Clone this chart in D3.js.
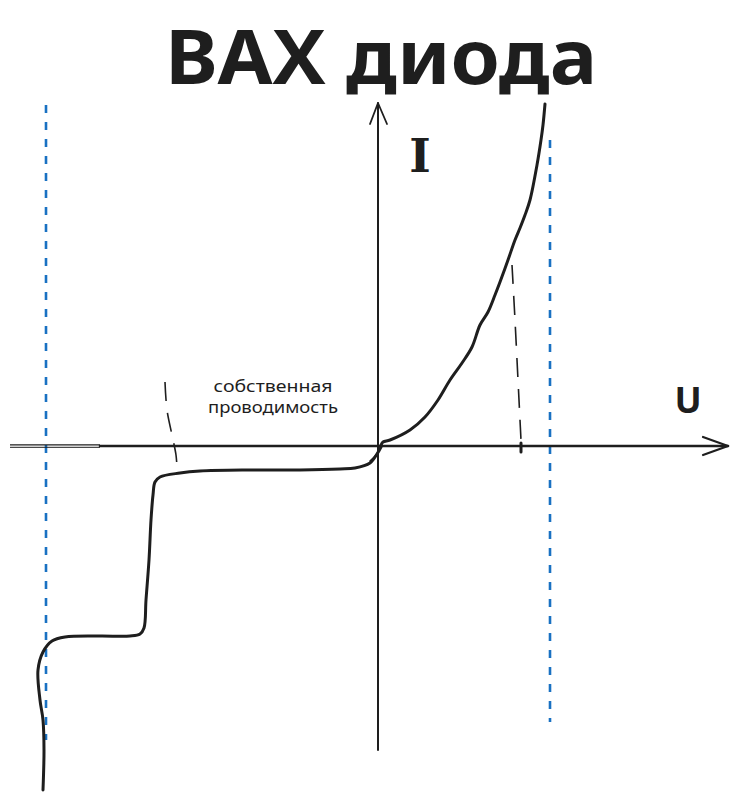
<!DOCTYPE html>
<html>
<head>
<meta charset="utf-8">
<script src="https://cdn.jsdelivr.net/npm/d3@7"></script>
<style>
  html, body { margin: 0; padding: 0; background: #ffffff; }
  svg { display: block; }
</style>
</head>
<body>
<div id="chart"></div>
<script>
// ---------- data (U, I in arbitrary units, origin at 0,0) ----------
const titleText = "ВАХ диода";
const axisLabels = ["I", "U"];
const noteLines = ["собственная", "проводимость"];

// forward branch
const forwardU = [0.2, 0.4, 1.1, 3.1, 4.6, 5.9, 7.1, 8.3, 9.3, 10.1, 10.9, 11.6, 12.1, 12.9, 13.6, 14.1, 14.6, 15.1, 15.8, 16.2, 16.4, 16.6];
const forwardI = [0.1, 0.4, 0.6, 1.6, 2.9, 4.6, 6.6, 8.3, 9.9, 12.1, 13.4, 15.1, 16.4, 18.6, 20.6, 21.8, 23.1, 24.6, 28.1, 30.6, 32.1, 34.2];

// reverse branch (with breakdown steps)
const reverseU = [0.2, -0.2, -0.9, -2.4, -3.9, -7.9, -12.9, -17.9, -19.9, -21.9, -22.4, -22.6, -22.8, -23.0, -23.3, -23.5, -23.9, -24.9, -27.9, -31.4, -32.7, -33.6, -34.1, -33.9, -33.6, -33.5, -33.6];
const reverseI = [-0.1, -0.8, -1.7, -2.2, -2.3, -2.4, -2.4, -2.5, -2.7, -3.1, -3.6, -4.9, -7.4, -11.4, -15.4, -18.2, -18.8, -19.0, -19.0, -19.1, -19.5, -20.6, -22.4, -25.4, -27.4, -30.4, -34.4];

// extra sketch stroke near the origin
const sketchU = [0.3, -0.3, -0.9];
const sketchI = [0.1, -0.9, -1.5];

// blue dashed limits
const limitU = [-33.3, 17.1];
const limitTop = [34.1, 30.6];
const limitBottom = [-29.4, -27.6];

// black dashed guides
const guideRightU = [13.3, 13.6, 13.9, 14.1, 14.2];
const guideRightI = [18.1, 12.6, 6.6, 2.6, 0.6];
const guideLeftU = [-21.4, -21.2, -20.7, -20.3, -20.2];
const guideLeftI = [6.4, 3.6, 1.1, -0.9, -2.2];
const tickU = [14.2];

// axis extents
const uDomain = [-37, 35];
const iDomain = [-35, 35];

// ---------- drawing ----------
const W = 738, H = 800;
const ink = "#1e1e1e", blue = "#1971c2";

const svg = d3.select("#chart").append("svg")
  .attr("width", W).attr("height", H);

const x = d3.scaleLinear().domain(uDomain).range([9, 729]);
const y = d3.scaleLinear().domain(iDomain).range([796, 96]);

const zip = (a, b) => a.map((v, i) => [v, b[i]]);
const line = d3.line().x(d => x(d[0])).y(d => y(d[1])).curve(d3.curveCatmullRom.alpha(0.5));

// blue dashed verticals
limitU.forEach((u, i) => {
  svg.append("line")
    .attr("x1", x(u)).attr("x2", x(u))
    .attr("y1", y(limitTop[i])).attr("y2", y(limitBottom[i]))
    .attr("stroke", blue).attr("stroke-width", 2.6)
    .attr("stroke-dasharray", "8,9");
});

// horizontal axis
const ax0 = x(-36.9), axSplit = x(-27.9), axEnd = x(34.9), ay = y(0);
svg.append("line").attr("x1", ax0).attr("x2", axSplit).attr("y1", ay - 1.2).attr("y2", ay - 1.2)
  .attr("stroke", ink).attr("stroke-width", 1.3);
svg.append("line").attr("x1", ax0).attr("x2", axSplit).attr("y1", ay + 1.4).attr("y2", ay + 1.4)
  .attr("stroke", ink).attr("stroke-width", 1.3).attr("opacity", 0.8);
svg.append("line").attr("x1", axSplit).attr("x2", axEnd).attr("y1", ay).attr("y2", ay)
  .attr("stroke", ink).attr("stroke-width", 2.6).attr("stroke-linecap", "round");
svg.append("path")
  .attr("d", `M${axEnd - 25},${ay - 9} L${axEnd},${ay} L${axEnd - 25},${ay + 9}`)
  .attr("fill", "none").attr("stroke", ink).attr("stroke-width", 2.2)
  .attr("stroke-linecap", "round").attr("stroke-linejoin", "round");

// vertical axis
const vx = x(-0.1), vTop = y(34.3), vBot = y(-30.4);
svg.append("line").attr("x1", vx).attr("x2", vx).attr("y1", vTop).attr("y2", vBot)
  .attr("stroke", ink).attr("stroke-width", 2).attr("stroke-linecap", "round");
svg.append("path")
  .attr("d", `M${vx - 8},${vTop + 21} L${vx},${vTop} L${vx + 9},${vTop + 21}`)
  .attr("fill", "none").attr("stroke", ink).attr("stroke-width", 1.8)
  .attr("stroke-linecap", "round").attr("stroke-linejoin", "round");

// black dashed guides
svg.append("path").attr("d", line(zip(guideRightU, guideRightI)))
  .attr("fill", "none").attr("stroke", ink).attr("stroke-width", 1.6)
  .attr("stroke-dasharray", "19,12");
svg.append("path").attr("d", line(zip(guideLeftU, guideLeftI)))
  .attr("fill", "none").attr("stroke", ink).attr("stroke-width", 1.6)
  .attr("stroke-dasharray", "19,12");

// tick on U axis
tickU.forEach(u => {
  svg.append("line").attr("x1", x(u)).attr("x2", x(u))
    .attr("y1", y(0.3)).attr("y2", y(-0.6))
    .attr("stroke", ink).attr("stroke-width", 3).attr("stroke-linecap", "round");
});

// I-V curve
svg.append("path").attr("d", line(zip(forwardU, forwardI)))
  .attr("fill", "none").attr("stroke", ink).attr("stroke-width", 3)
  .attr("stroke-linecap", "round").attr("stroke-linejoin", "round");
svg.append("path").attr("d", line(zip(reverseU, reverseI)))
  .attr("fill", "none").attr("stroke", ink).attr("stroke-width", 3)
  .attr("stroke-linecap", "round").attr("stroke-linejoin", "round");
svg.append("path").attr("d", line(zip(sketchU, sketchI)))
  .attr("fill", "none").attr("stroke", ink).attr("stroke-width", 1.6)
  .attr("stroke-linecap", "round");

// texts
svg.append("text")
  .attr("x", 381).attr("y", 84)
  .attr("text-anchor", "middle")
  .attr("font-family", "'Noto Sans', 'DejaVu Sans', sans-serif")
  .attr("font-weight", 700).attr("font-size", 76)
  .attr("textLength", 432).attr("lengthAdjust", "spacingAndGlyphs")
  .attr("fill", ink)
  .text(titleText);

svg.append("text")
  .attr("x", 420).attr("y", 172)
  .attr("text-anchor", "middle")
  .attr("font-family", "'DejaVu Serif', serif")
  .attr("font-weight", 700).attr("font-size", 46)
  .attr("fill", ink)
  .text(axisLabels[0]);

svg.append("text")
  .attr("x", 688).attr("y", 413)
  .attr("text-anchor", "middle")
  .attr("font-family", "'Noto Sans', sans-serif")
  .attr("font-weight", 700).attr("font-size", 36)
  .attr("fill", ink)
  .text(axisLabels[1]);

const noteLens = [119, 130];
noteLines.forEach((t, i) => {
  svg.append("text")
    .attr("x", 273).attr("y", 392 + i * 21)
    .attr("text-anchor", "middle")
    .attr("font-family", "'Noto Sans', sans-serif")
    .attr("font-size", 17)
    .attr("textLength", noteLens[i]).attr("lengthAdjust", "spacingAndGlyphs")
    .attr("fill", ink)
    .text(t);
});
</script>
</body>
</html>
